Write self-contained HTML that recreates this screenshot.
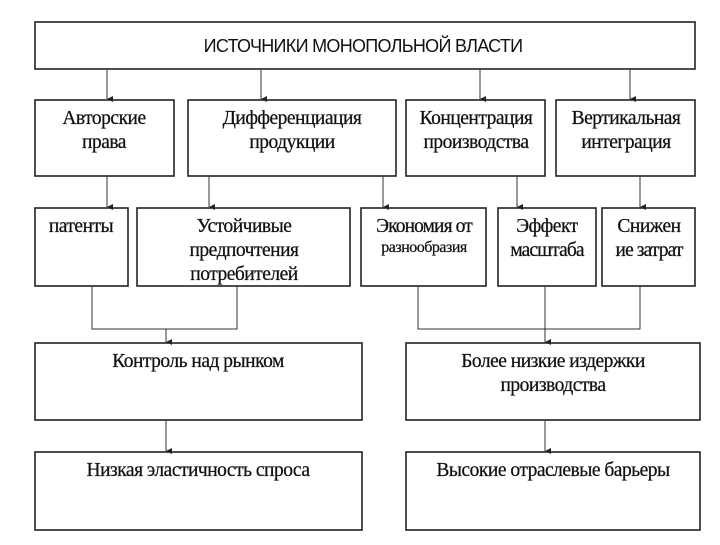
<!DOCTYPE html>
<html><head><meta charset="utf-8"><style>
body{margin:0;background:#fff;}
svg text{font-family:"Liberation Serif",serif;font-size:19.5px;fill:#111;text-anchor:middle;letter-spacing:-0.5px;stroke:#111;stroke-width:0.25}
</style></head><body>
<svg width="720" height="540" xmlns="http://www.w3.org/2000/svg">
<defs><marker id="a" markerWidth="8" markerHeight="8" refX="4" refY="7" orient="auto" markerUnits="userSpaceOnUse"><path d="M1,1 L4,7 L7,1 Z" fill="#222"/></marker></defs>
<g fill="none" stroke="#222" stroke-width="1.6">
<rect x="35" y="22" width="660" height="47"/>
<rect x="35" y="100" width="139" height="76"/>
<rect x="188" y="100" width="208" height="76"/>
<rect x="406" y="100" width="139" height="76"/>
<rect x="556" y="100" width="139" height="76"/>
<rect x="35" y="208" width="93" height="78"/>
<rect x="137" y="208" width="213" height="78"/>
<rect x="361" y="208" width="125" height="78"/>
<rect x="498" y="208" width="98" height="78"/>
<rect x="602" y="208" width="93" height="78"/>
<rect x="35" y="343" width="327" height="77"/>
<rect x="406" y="343" width="294" height="77"/>
<rect x="35" y="452" width="327" height="78"/>
<rect x="406" y="452" width="294" height="78"/>
</g>
<g stroke="#333" stroke-width="1" fill="none">
<line x1="107" y1="69" x2="107" y2="99" marker-end="url(#a)"/>
<line x1="261" y1="69" x2="261" y2="99" marker-end="url(#a)"/>
<line x1="480" y1="69" x2="480" y2="99" marker-end="url(#a)"/>
<line x1="630" y1="69" x2="630" y2="99" marker-end="url(#a)"/>
<line x1="107" y1="176" x2="107" y2="207" marker-end="url(#a)"/>
<line x1="209" y1="176" x2="209" y2="207" marker-end="url(#a)"/>
<line x1="383" y1="176" x2="383" y2="207" marker-end="url(#a)"/>
<line x1="517" y1="176" x2="517" y2="207" marker-end="url(#a)"/>
<line x1="640" y1="176" x2="640" y2="207" marker-end="url(#a)"/>
<polyline points="92,286 92,329 237,329 237,286"/>
<line x1="166" y1="329" x2="166" y2="342" marker-end="url(#a)"/>
<polyline points="418,286 418,329 640,329 640,286"/>
<line x1="545" y1="286" x2="545" y2="342" marker-end="url(#a)"/>
<line x1="166" y1="420" x2="166" y2="451" marker-end="url(#a)"/>
<line x1="545" y1="420" x2="545" y2="451" marker-end="url(#a)"/>
</g>
<text x="363" y="52" style="font-family:'Liberation Sans',sans-serif;font-size:18px;letter-spacing:-0.7px;stroke-width:0">ИСТОЧНИКИ МОНОПОЛЬНОЙ ВЛАСТИ</text>
<text x="104" y="124">Авторские</text><text x="104" y="148">права</text>
<text x="292" y="124">Дифференциация</text><text x="292" y="148">продукции</text>
<text x="476" y="124">Концентрация</text><text x="476" y="148">производства</text>
<text x="626" y="124">Вертикальная</text><text x="626" y="148">интеграция</text>
<text x="81" y="232">патенты</text>
<text x="244" y="232">Устойчивые</text><text x="244" y="256">предпочтения</text><text x="244" y="280">потребителей</text>
<text x="424" y="232" style="letter-spacing:-0.9px">Экономия от</text><text x="424" y="252" style="font-size:16px">разнообразия</text>
<text x="547" y="232">Эффект</text><text x="547" y="256" style="letter-spacing:-0.9px">масштаба</text>
<text x="649" y="232">Снижен</text><text x="649" y="256" style="letter-spacing:-0.9px">ие затрат</text>
<text x="198" y="367">Контроль над рынком</text>
<text x="553" y="367">Более низкие издержки</text><text x="553" y="391">производства</text>
<text x="198" y="476">Низкая эластичность спроса</text>
<text x="553" y="476">Высокие отраслевые барьеры</text>
</svg>
</body></html>
